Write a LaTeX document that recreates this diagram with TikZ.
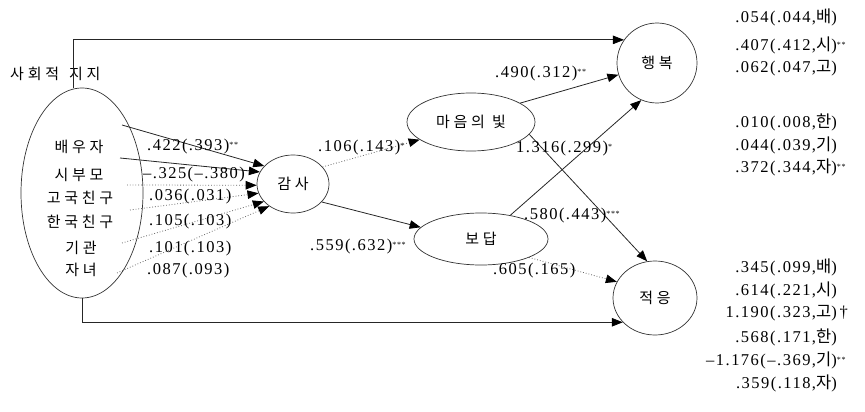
\documentclass[tikz,border=0pt]{standalone}
\usepackage{fontspec}
\setmainfont{Liberation Serif}[LetterSpace=9]
\newfontfamily\kr{Noto Sans CJK KR}[LetterSpace=25]
\newcommand\K[1]{{\kr #1}}
\newcommand\sig[1]{\rlap{\raisebox{3pt}{\footnotesize #1}}}
\usetikzlibrary{arrows.meta,shapes.geometric}
\begin{document}
\begin{tikzpicture}[x=1pt,y=-1pt,
  font=\fontsize{16.5}{18}\selectfont,
  ell/.style={draw=black!80, line width=0.7pt, ellipse, inner sep=0pt},
  arr/.style={draw=black!85, line width=0.8pt, -{Triangle[length=11pt,width=8.5pt,color=black]}},
  dotarr/.style={draw=black!60, line width=0.8pt, dotted, -{Triangle[length=11pt,width=8.5pt,color=black]}},
  lab/.style={inner sep=0pt, anchor=west},
  rlab/.style={inner sep=0pt, anchor=east},
  item/.style={inner sep=0pt, font=\fontsize{15}{17}\selectfont}
]
\useasboundingbox (0,0) rectangle (865,412);

% nodes
\node[ell, minimum width=122pt, minimum height=210pt] (ss) at (82,193) {};
\node[ell, minimum width=72pt, minimum height=58pt, font=\fontsize{15}{17}\selectfont] (gamsa) at (293,184) {\K{감사}};
\node[ell, minimum width=128pt, minimum height=58pt, font=\fontsize{15}{17}\selectfont] (light) at (471,122) {\K{마음의 빛}};
\node[ell, minimum width=134pt, minimum height=52pt, font=\fontsize{15}{17}\selectfont] (bodap) at (481,239) {\K{보답}};
\node[ell, minimum width=80pt, minimum height=80pt, font=\fontsize{15}{17}\selectfont] (happy) at (657,63) {\K{행복}};
\node[ell, minimum width=84pt, minimum height=74pt, font=\fontsize{15}{17}\selectfont] (adapt) at (655,298) {\K{적응}};

\node[item, anchor=west] (title) at (10,74) {\K{사회적\hspace{10pt}지지}};
\node[item] (i1) at (79,147) {\K{배우자}};
\node[item] (i2) at (79,175) {\K{시부모}};
\node[item] (i3) at (80,198) {\K{고국친구}};
\node[item] (i4) at (80,222) {\K{한국친구}};
\node[item] (i5) at (81,248) {\K{기관}};
\node[item] (i6) at (81,270) {\K{자녀}};

% start points inside the big ellipse
\coordinate (s1) at (122,125);
\coordinate (s2) at (120,158);
\coordinate (s3) at (127,185);
\coordinate (s4) at (130,210);
\coordinate (s5) at (122,243);
\coordinate (s6) at (117,273);

% connectors
\draw[arr] (s1) -- (gamsa.148);
\draw[arr] (s2) -- (gamsa.160);
\draw[dotarr] (s3) -- (gamsa.182);
\draw[dotarr] (s4) -- (gamsa.195);
\draw[dotarr] (s5) -- (gamsa.211);
\draw[dotarr] (s6) -- (gamsa.223);
\draw[dotarr] (gamsa.30) -- (light.199);
\draw[arr] (gamsa.328) -- (bodap.169);
\draw[arr] (light.21) -- (happy.197);
\draw[arr] (light.348) -- (adapt.102);
\draw[arr] (bodap.39) -- (happy.247);
\draw[dotarr] (bodap.339) -- (adapt.157);
\draw[arr] ([xshift=-9pt]ss.north) |- (happy.145);
\draw[arr] (ss.south) |- (adapt.217);

% path labels
\node[lab] (l1) at (147,147) {.422(.393)\sig{**}};
\node[lab] (l2) at (143,175) {–.325(–.380)};
\node[lab] (l3) at (149,197) {.036(.031)};
\node[lab] (l4) at (149,222) {.105(.103)};
\node[lab] (l5) at (149,249) {.101(.103)};
\node[lab] (l6) at (147,271) {.087(.093)};
\node[lab] (l7) at (318,148) {.106(.143)\sig{*}};
\node[lab] (l8) at (310,247) {.559(.632)\sig{***}};
\node[lab] (l9) at (495,74) {.490(.312)\sig{**}};
\node[lab] (l10) at (516,149) {1.316(.299)\sig{*}};
\node[lab] (l11) at (524,216) {.580(.443)\sig{***}};
\node[lab] (l12) at (493,271) {.605(.165)};

% right column
\node[rlab] (r1) at (837,17) {.054(.044,\K{배})};
\node[rlab] (r2) at (837,45) {.407(.412,\K{시})\sig{**}};
\node[rlab] (r3) at (837,68) {.062(.047,\K{고})};
\node[rlab] (r4) at (837,122) {.010(.008,\K{한})};
\node[rlab] (r5) at (837,145) {.044(.039,\K{기})};
\node[rlab] (r6) at (837,167) {.372(.344,\K{자})\sig{**}};
\node[rlab] (r7) at (837,267) {.345(.099,\K{배})};
\node[rlab] (r8) at (837,290) {.614(.221,\K{시})};
\node[rlab] (r9) at (837,313) {1.190(.323,\K{고})\rlap{\,†}};
\node[rlab] (r10) at (837,337) {.568(.171,\K{한})};
\node[rlab] (r11) at (837,360) {–1.176(–.369,\K{기})\sig{**}};
\node[rlab] (r12) at (837,383) {.359(.118,\K{자})};
\end{tikzpicture}
\end{document}
